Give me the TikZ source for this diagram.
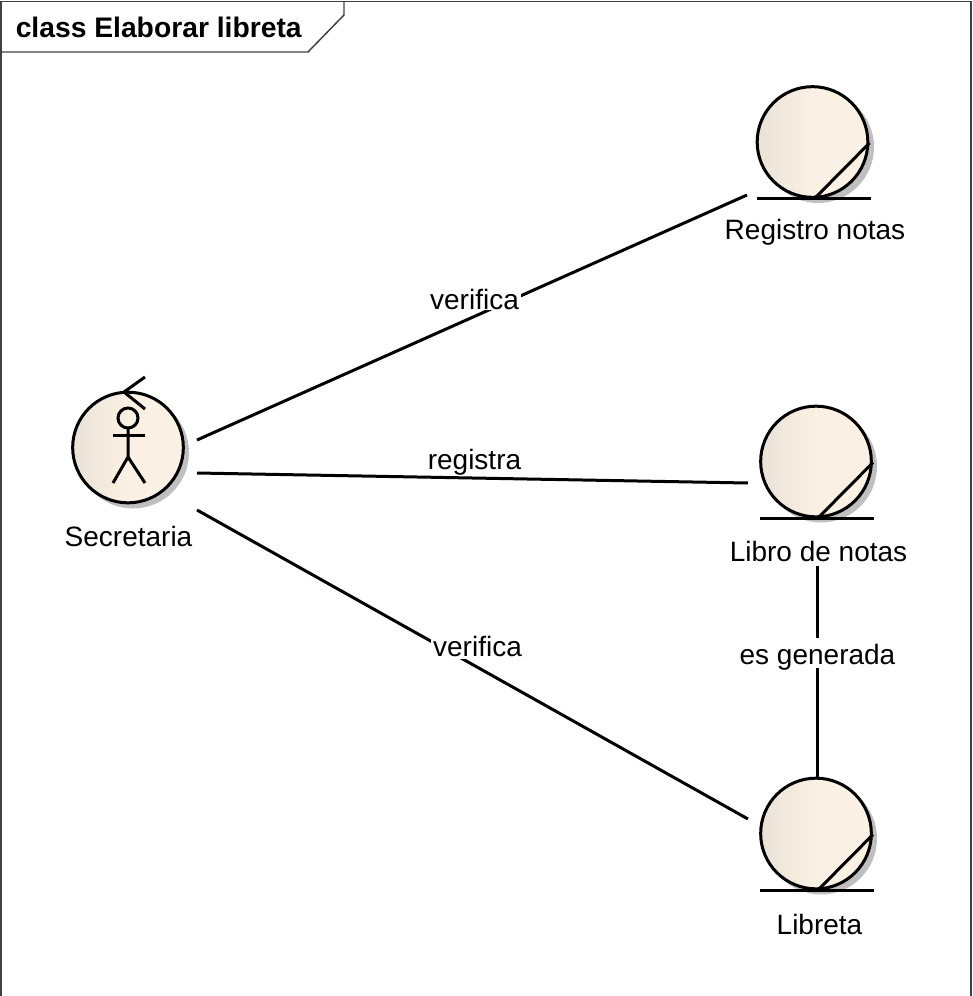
\documentclass[tikz,border=0pt]{standalone}
\usepackage{fontspec}
\usetikzlibrary{calc}
\setmainfont{Liberation Sans}
\definecolor{capaDark}{RGB}{234,226,214}
\definecolor{capaLight}{RGB}{250,241,228}
\tikzset{
  lineaUml/.style={line width=2.25pt,black},
  lineaMarco/.style={color=black!75,line width=1.1pt},
  capaClase/.style={circle,draw=black,line width=2.25pt,minimum size=83pt,inner sep=0pt,
    left color=capaDark,right color=capaLight,middle color=capaLight},
  sombraClase/.style={circle,fill=black!25,minimum size=84pt,inner sep=0pt},
  nombreClase/.style={font=\fontsize{21pt}{24pt}\selectfont,inner sep=0pt,anchor=base},
  etiquetaLinea/.style={nombreClase,fill=white,inner xsep=1.5pt,inner ysep=0.75pt},
}

\begin{document}
\begin{tikzpicture}[x=0.75pt,y=0.75pt,yscale=-1]
\useasboundingbox (0,0) rectangle (972,996);

%Frame
\draw [lineaMarco] (1,996) -- (1,1.5) -- (971,1.5) -- (971,996);
\draw [lineaMarco] (1,52) -- (308,52) -- (344,15) -- (344,1.5);
\node [font=\bfseries\fontsize{21.2pt}{24pt}\selectfont,inner sep=0pt,anchor=base west] (titulo) at (15.5,37) {class Elaborar libreta};

%Shadows
\node [sombraClase] (sombraSecretaria) at (133,452.5) {};
\node [sombraClase] (sombraRegistro) at (818,147) {};
\node [sombraClase] (sombraLibro) at (821,466.5) {};
\node [sombraClase] (sombraLibreta) at (821,838.5) {};

%Circles
\node [capaClase] (secretaria) at (128,447.5) {};
\node [capaClase] (registro) at (812.5,142) {};
\node [capaClase] (libro) at (816,461.5) {};
\node [capaClase] (libreta) at (816,833.5) {};

%Boundary marks
\foreach \nodo in {registro,libro,libreta}{
  \draw [lineaUml] ($(\nodo)+(-56,56.5)$) -- ($(\nodo)+(58,56.5)$);
  \draw [lineaUml] ($(\nodo)+(3.5,55)$) -- ($(\nodo)+(57,1)$);
}

%Actor in Secretaria
\draw [lineaUml] (145,377) -- (124,392) -- (145,409);
\draw [lineaUml] (128,418) circle (10);
\draw [lineaUml] (128,428) -- (128,457) -- (113,483);
\draw [lineaUml] (128,457) -- (145,483);
\draw [lineaUml] (113,435.5) -- (145,435.5);

%Class names
\node [nombreClase] (nombreSecretaria) at (128.5,546) {Secretaria};
\node [nombreClase] (nombreRegistro) at (815,239) {Registro notas};
\node [nombreClase] (nombreLibro) at (818.5,561) {Libro de notas};
\node [nombreClase] (nombreLibreta) at (819.5,934) {Libreta};

%Connector ends
\coordinate (secretariaA) at (197,440);
\coordinate (secretariaB) at (197,473);
\coordinate (secretariaC) at (197,510);
\coordinate (registroA) at (747,195);
\coordinate (libroA) at (748,483);
\coordinate (libroB) at (817,566);
\coordinate (libretaA) at (748,819);
\coordinate (libretaB) at (817,779);

%Straight Lines
\draw [lineaUml] (secretariaA) -- (registroA);
\draw [lineaUml] (secretariaB) -- (libroA);
\draw [lineaUml] (secretariaC) -- (libretaA);
\draw [lineaUml] (libroB) -- (libretaB);

%Line labels
\node [etiquetaLinea] (etVerificaA) at (474.5,309) {verifica};
\node [nombreClase] (etRegistra) at (474.5,469) {registra};
\node [etiquetaLinea,text depth=1.5pt] (etVerificaB) at (477.5,656) {verifica};
\node [etiquetaLinea,text height=19.5pt,text depth=3pt,inner ysep=0pt] (etGenerada) at (817.5,664) {es generada};
\end{tikzpicture}
\end{document}
